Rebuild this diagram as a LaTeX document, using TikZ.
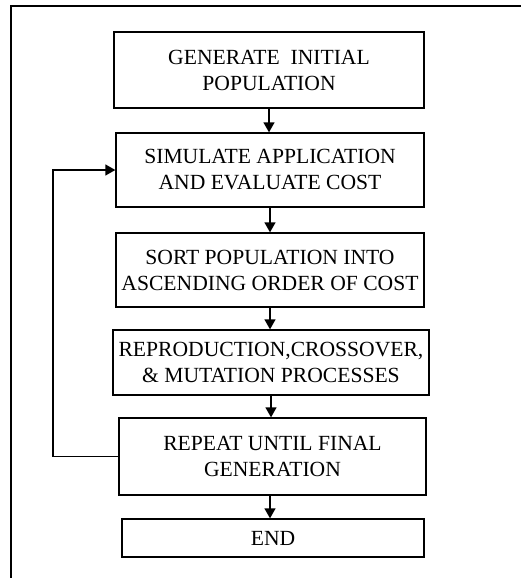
\documentclass[tikz,border=0pt]{standalone}
\usepackage{fontspec}
\setmainfont{Liberation Serif}
\usepackage{tikz}
\usetikzlibrary{shapes,arrows.meta,positioning}

\tikzset{
  gabox/.style={draw, line width=1.3pt, align=center, inner sep=0pt,
    font=\fontsize{21.6pt}{26pt}\selectfont},
  gaarrow/.style={-{Triangle[length=10pt,width=11pt]}, line width=1.3pt}
}

\begin{document}
\begin{tikzpicture}[x=1pt, y=-1pt]
\useasboundingbox (0,0) rectangle (521,578);

% Outer frame (top and left only)
\draw[line width=2pt] (521,6) -- (11,6) -- (11,578);

% Steps of the algorithm
\node[gabox, minimum width=310pt, minimum height=76pt] (gen) at (269,70) {GENERATE\ \ INITIAL\\POPULATION};
\node[gabox, minimum width=308pt, minimum height=74pt] (sim) at (270,170) {SIMULATE APPLICATION\\AND EVALUATE COST};
\node[gabox, minimum width=308pt, minimum height=74pt] (sort) at (270,270) {SORT POPULATION INTO\\ASCENDING ORDER OF COST};
\node[gabox, minimum width=316pt, minimum height=65pt] (repro) at (271,362.5) {REPRODUCTION,CROSSOVER,\\\& MUTATION PROCESSES};
\node[gabox, minimum width=307pt, minimum height=77pt] (rep) at (272.5,456.5) {REPEAT UNTIL FINAL\\GENERATION};
\node[gabox, minimum width=302pt, minimum height=38pt] (fin) at (273,538) {END};

% Forward arrows
\draw[gaarrow] (gen.south) -- (gen.south |- sim.north);
\draw[gaarrow] (sim.south) -- (sim.south |- sort.north);
\draw[gaarrow] (sort.south) -- (sort.south |- repro.north);
\draw[gaarrow] (repro.south) -- (repro.south |- rep.north);
\draw[gaarrow] ([xshift=-2.5pt]rep.south) -- ([xshift=-2.5pt]rep.south |- fin.north);

% Loop back
\coordinate (loop) at (53,300);
\draw[gaarrow] (rep.west) -- (rep.west -| loop) -- (sim.west -| loop) -- (sim.west);
\end{tikzpicture}
\end{document}
